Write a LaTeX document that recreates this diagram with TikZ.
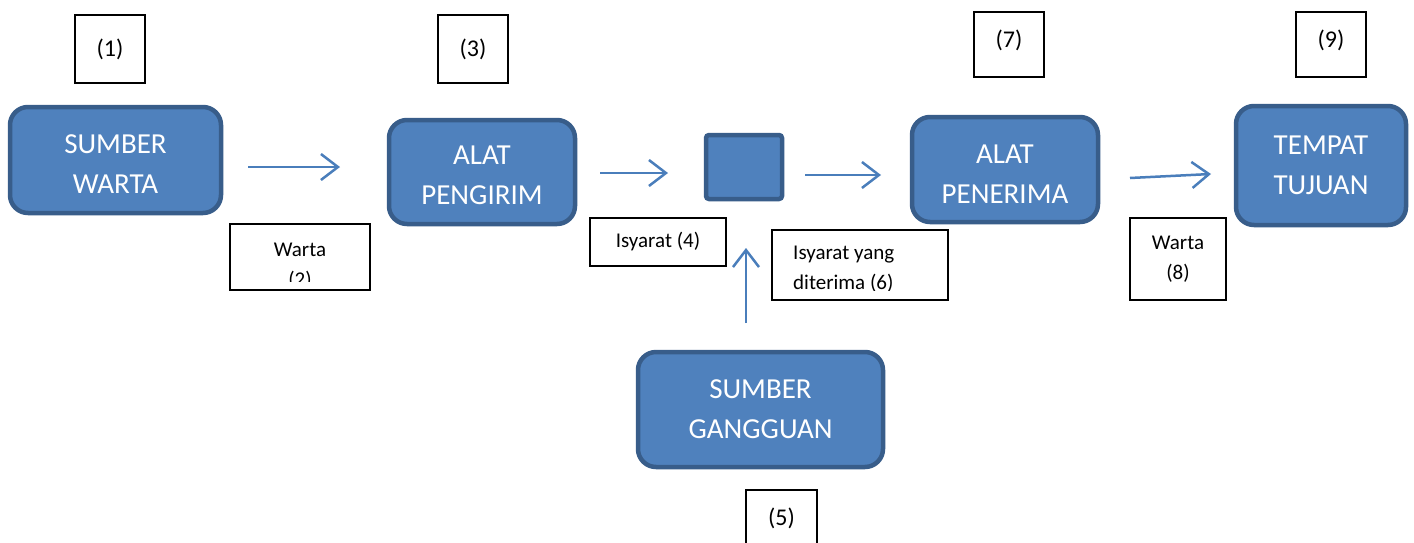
\documentclass[tikz,border=0pt]{standalone}
\usepackage{fontspec}
\setmainfont{Carlito}
\usetikzlibrary{arrows.meta}
\definecolor{boxfill}{HTML}{4F81BD}
\definecolor{boxline}{HTML}{385D8A}
\definecolor{arrowblue}{HTML}{4A7EBB}
\newcommand{\turun}[1]{\rule{0pt}{#1}}
\begin{document}
\begin{tikzpicture}[x=1pt,y=-1pt,
    blok/.style={draw=boxline, fill=boxfill, line width=4.5pt,
      rounded corners=#1, text=white, align=center, inner sep=0pt,
      font=\fontsize{29}{40}\selectfont},
    blok/.default=18pt,
    ket/.style={draw, line width=1.1pt, inner sep=0pt, align=center,
      font=\fontsize{21}{30}\selectfont},
    nomor/.style={ket, font=\fontsize{24}{30}\selectfont},
    kettext/.style={inner sep=0pt, font=\fontsize{21}{30}\selectfont},
    arr/.style={draw=arrowblue, line width=2.5pt,
      -{Straight Barb[length=17pt,width=26pt,line width=2.5pt]}}]
  \fill[white] (0,0) rectangle (1414,542);
  \useasboundingbox (0,0) rectangle (1414,542);

  \node[blok, minimum width=211pt, minimum height=106pt] (sw) at (115.5,160) {\turun{26pt}SUMBER\\WARTA};
  \node[blok, minimum width=186pt, minimum height=104pt] (pg) at (482,172) {\turun{26pt}ALAT\\PENGIRIM};
  \node[blok=3pt, minimum width=76pt, minimum height=64pt] (sal) at (744,167) {};
  \node[blok, minimum width=186pt, minimum height=105pt] (pn) at (1005,169.5) {\turun{27pt}ALAT\\PENERIMA};
  \node[blok, minimum width=170pt, minimum height=119pt] (tt) at (1321,165.5) {TEMPAT\\TUJUAN};
  \node[blok, minimum width=245pt, minimum height=115pt] (sg) at (760.5,409.5) {SUMBER\\GANGGUAN};

  \node[nomor, minimum width=70pt, minimum height=68pt] (n1) at (110,49) {(1)};
  \node[nomor, minimum width=70pt, minimum height=68pt] (n3) at (473,49) {(3)};
  \node[nomor, text depth=11pt, minimum width=70pt, minimum height=65pt] (n7) at (1009,44.5) {(7)};
  \node[nomor, text depth=11pt, minimum width=70pt, minimum height=65pt] (n9) at (1331,44.5) {(9)};
  \node[nomor, minimum width=71pt, minimum height=56pt] (n5) at (781.5,518) {(5)};

  \node[ket, minimum width=136pt, minimum height=48pt] (i4) at (658,242) {Isyarat (4)};
  \node[ket, minimum width=96pt, minimum height=82pt] (w8) at (1178,259) {Warta\\(8)};
  \node[ket, minimum width=140pt, minimum height=66pt] (w2) at (300,257) {};
  \node[ket, minimum width=176pt, minimum height=70pt] (i6) at (860,265) {};
  \begin{scope}
    \clip (w2.north west) rectangle ([yshift=9pt]w2.south east);
    \node[kettext, align=center, anchor=north] (w2t) at (300,243) {Warta\\(2)};
  \end{scope}
  \begin{scope}
    \clip (i6.north west) rectangle ([yshift=10pt]i6.south east);
    \node[kettext, align=left, anchor=north west] (i6t) at (793,246) {Isyarat yang\\diterima (6)};
  \end{scope}

  \coordinate (p1) at (248,167);  \coordinate (q1) at (340,167);
  \coordinate (p2) at (600,173);  \coordinate (q2) at (668,173);
  \coordinate (p3) at (805,175);  \coordinate (q3) at (881,175);
  \coordinate (p4) at (1130,178); \coordinate (q4) at (1211,174);
  \coordinate (p5) at (746,323);  \coordinate (q5) at (746,248);
  \draw[arr] (p1) -- (q1);
  \draw[arr] (p2) -- (q2);
  \draw[arr] (p3) -- (q3);
  \draw[arr] (p4) -- (q4);
  \draw[arr] (p5) -- (q5);
\end{tikzpicture}
\end{document}
